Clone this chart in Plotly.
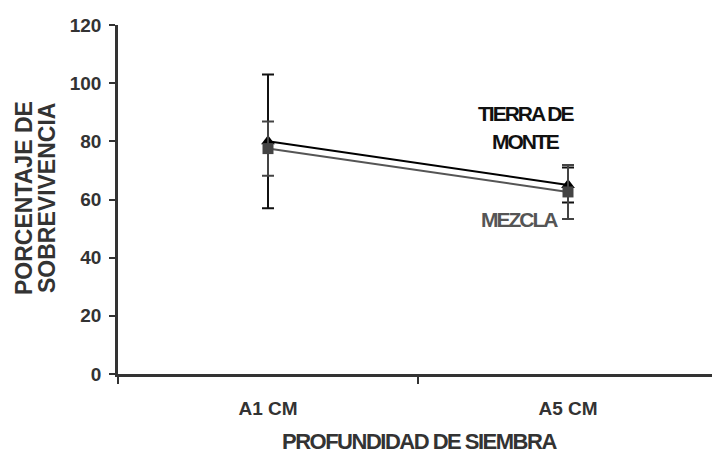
import plotly.graph_objects as go

categories = ["A1 CM", "A5 CM"]
tierra_values = [80, 65]
tierra_err = [23, 6]
mezcla_values = [77.5, 62.6]
mezcla_err = [9.3, 9.3]
y_ticks = [0, 20, 40, 60, 80, 100, 120]

FONT = "Liberation Sans, Arial, sans-serif"
AX = "#333333"

fig = go.Figure()
fig.add_trace(go.Scatter(
    x=categories, y=tierra_values, mode="lines+markers", name="TIERRA DE MONTE",
    line=dict(color="#000000", width=2),
    marker=dict(symbol="triangle-up", size=12, color="#000000"),
    error_y=dict(type="data", array=tierra_err, visible=True, color="#111111", thickness=2, width=6),
))
fig.add_trace(go.Scatter(
    x=categories, y=mezcla_values, mode="lines+markers", name="MEZCLA",
    line=dict(color="#555555", width=2),
    marker=dict(symbol="square", size=11, color="#444444"),
    error_y=dict(type="data", array=mezcla_err, visible=True, color="#444444", thickness=2, width=6),
))

def ls(t, s):
    return f'<span style="letter-spacing:{s}px">{t}</span>'

fig.update_layout(
    width=712, height=457,
    margin=dict(l=118, r=0, t=25, b=83),
    paper_bgcolor="white", plot_bgcolor="white",
    showlegend=False,
    font=dict(family=FONT, color=AX),
    xaxis=dict(
        type="category", range=[-0.5, 1.48], tickson="boundaries",
        showline=True, linecolor=AX, linewidth=2.5,
        ticks="outside", ticklen=7, tickwidth=2, tickcolor=AX,
        tickfont=dict(family=FONT, size=19, color=AX, weight="bold"),
        ticklabelstandoff=15,
        showgrid=False, zeroline=False,
    ),
    yaxis=dict(
        range=[0, 120], tickvals=y_ticks,
        showline=True, linecolor=AX, linewidth=2.5,
        ticks="outside", ticklen=6, tickwidth=2, tickcolor=AX,
        tickfont=dict(family=FONT, size=19, color=AX, weight="bold"),
        ticklabelstandoff=4,
        showgrid=False, zeroline=False,
    ),
)

def px_x(p):
    return (p - 118) / 594.0

def px_y(p):
    return (374 - p) / 349.0

annos = [
    dict(text="<b>" + ls("PROFUNDIDAD DE SIEMBRA", -1.5) + "</b>", x=px_x(419), y=px_y(441),
         font=dict(size=22, color=AX, family=FONT)),
    dict(text="<b>PORCENTAJE DE</b>", x=px_x(24), y=px_y(198), textangle=-90,
         font=dict(size=23, color=AX, family=FONT)),
    dict(text="<b>SOBREVIVENCIA</b>", x=px_x(47), y=px_y(198), textangle=-90,
         font=dict(size=23, color=AX, family=FONT)),
    dict(text="<b>" + ls("TIERRA DE", -2) + "</b>", x=px_x(526), y=px_y(113),
         font=dict(size=21, color="#111111", family=FONT)),
    dict(text="<b>" + ls("MONTE", -2) + "</b>", x=px_x(526), y=px_y(141),
         font=dict(size=21, color="#111111", family=FONT)),
    dict(text="<b>" + ls("MEZCLA", -2) + "</b>", x=px_x(519), y=px_y(219),
         font=dict(size=21, color="#555555", family=FONT)),
]
for a in annos:
    fig.add_annotation(xref="paper", yref="paper", showarrow=False,
                       xanchor="center", yanchor="middle", **a)

fig.write_html("out.html", config={"displayModeBar": False},
               post_script="document.body.style.margin='0';")
